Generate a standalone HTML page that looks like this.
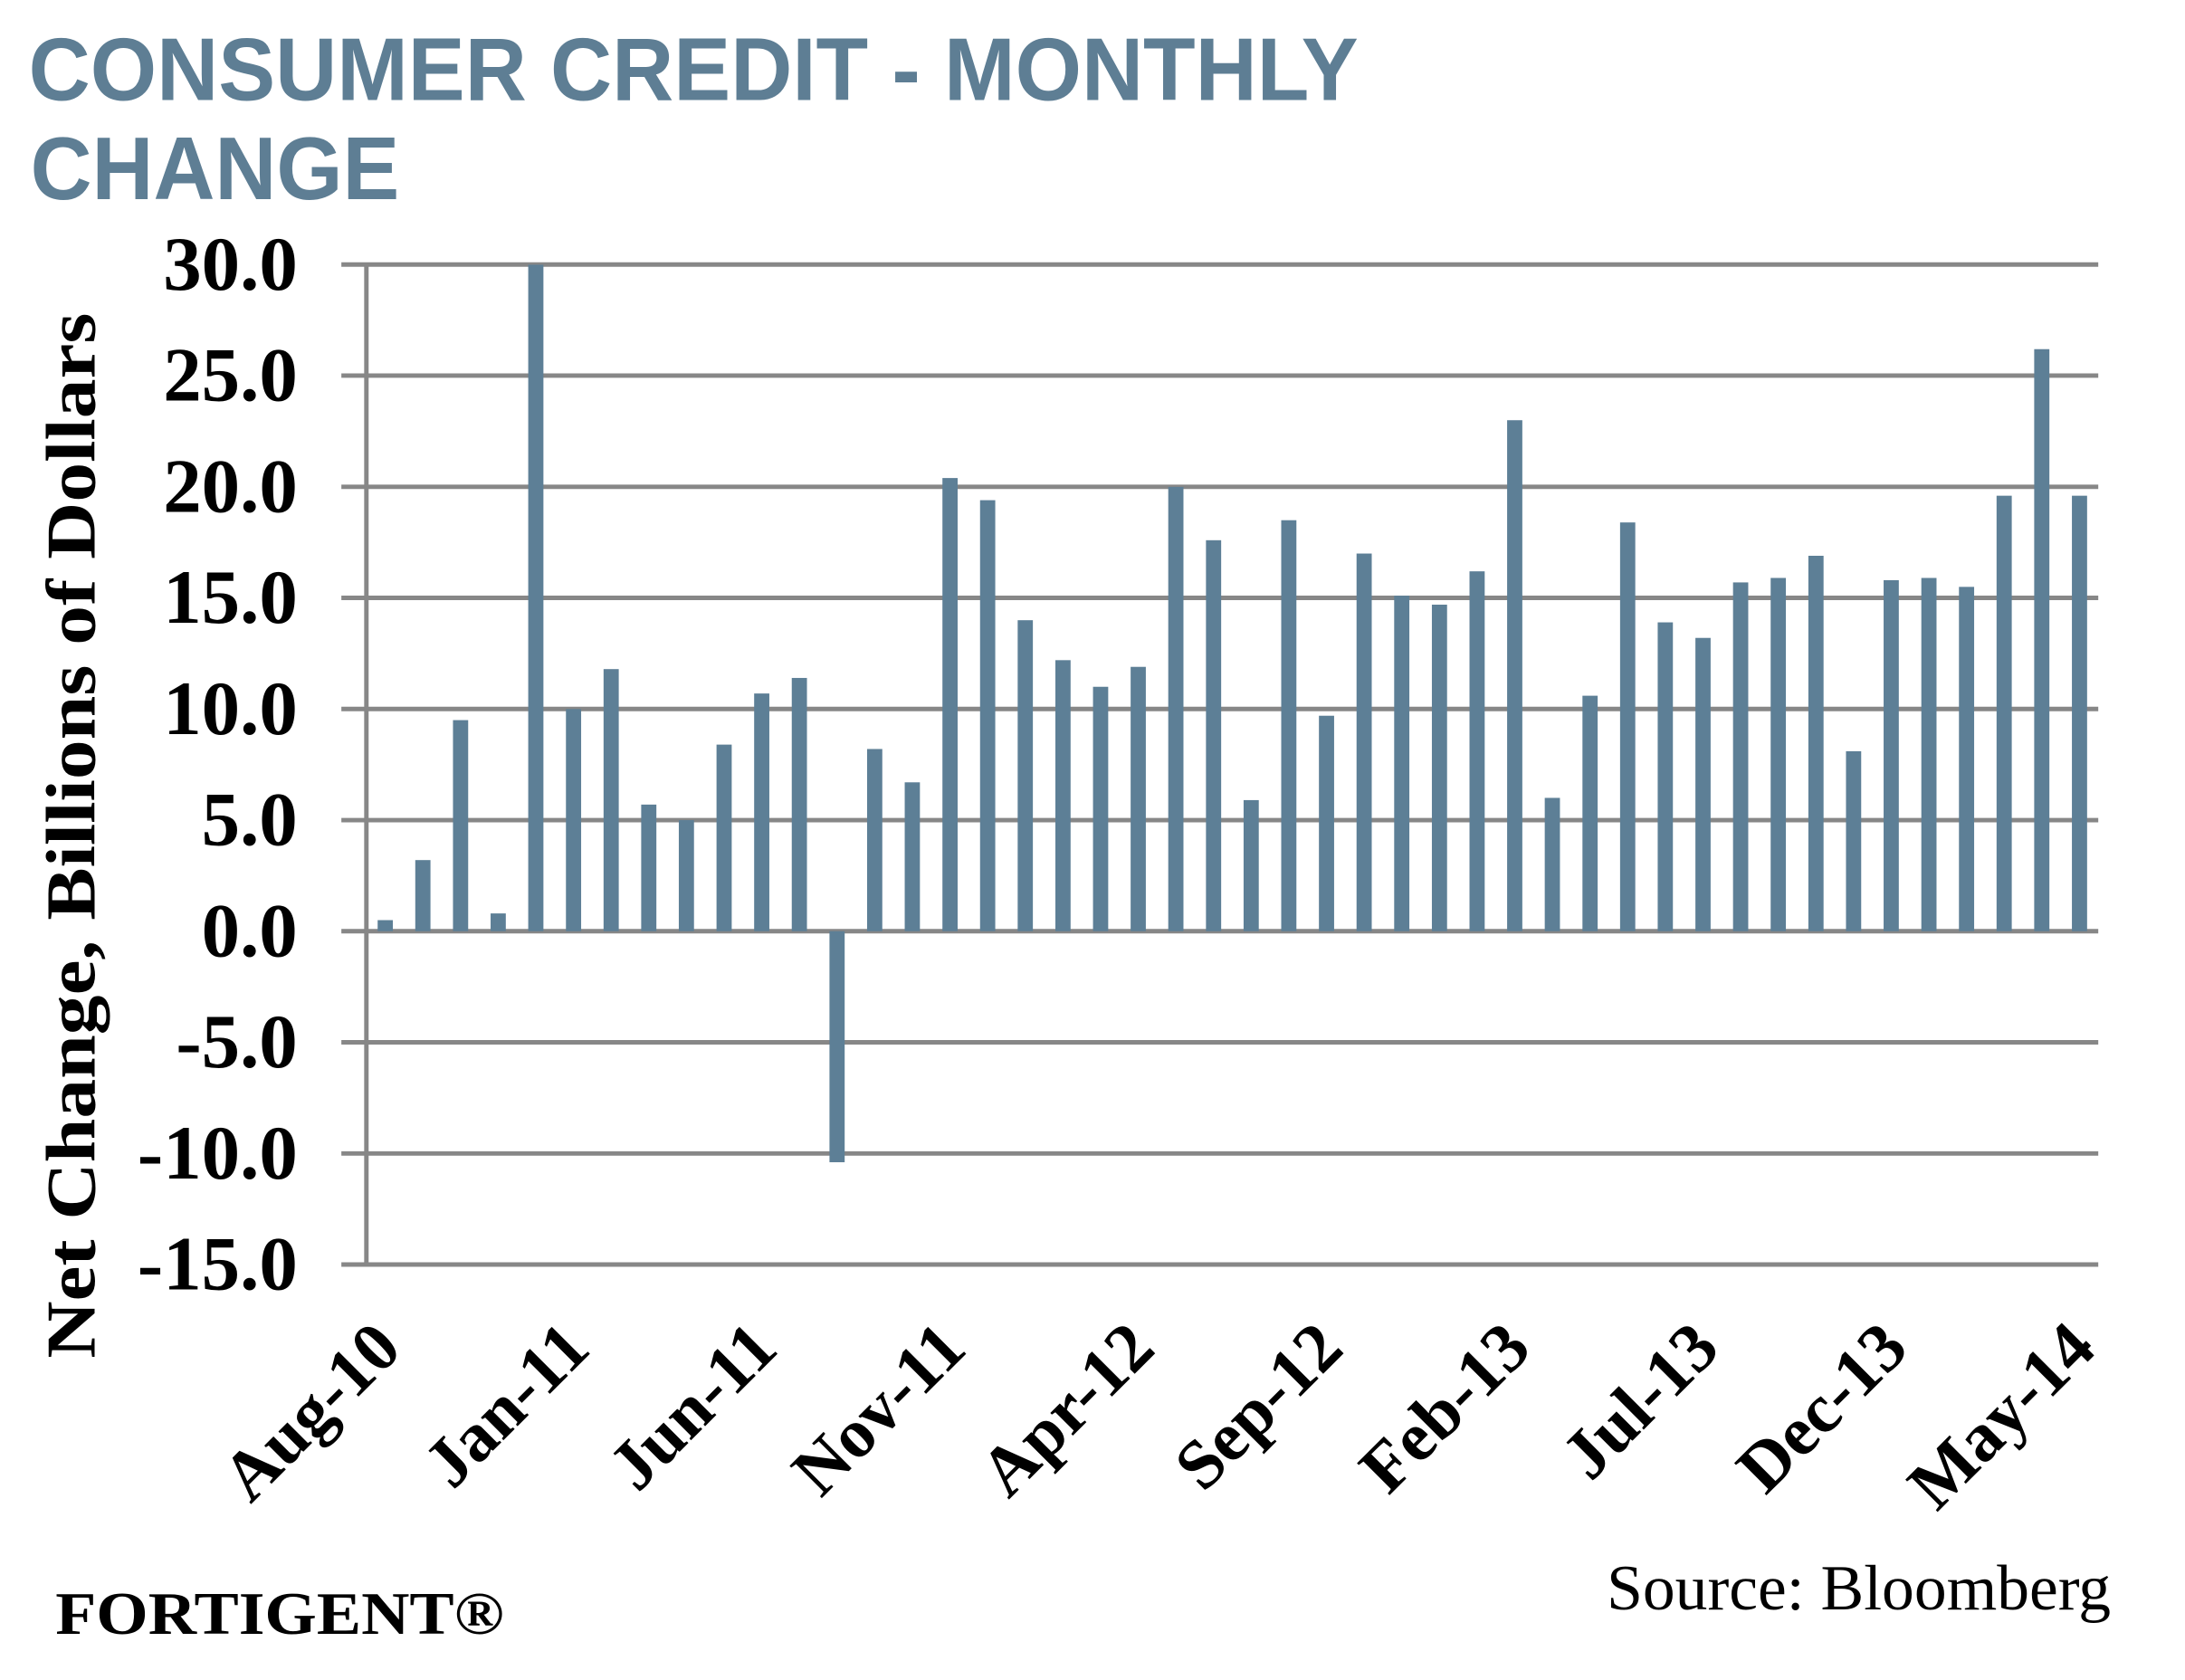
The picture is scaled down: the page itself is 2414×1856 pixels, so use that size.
<!DOCTYPE html>
<html><head><meta charset="utf-8"><style>
html,body{margin:0;padding:0;background:#fff;}
svg{display:block;}
</style></head><body>
<svg width="2414" height="1856" viewBox="0 0 2414 1856" xmlns="http://www.w3.org/2000/svg">
<rect width="2414" height="1856" fill="#fff"/>
<g transform="scale(0.9873)">
<g font-family="'Liberation Sans',Arial,sans-serif" font-weight="bold" fill="#5e7e94" font-size="100">
<text x="32" y="112" textLength="1488" lengthAdjust="spacingAndGlyphs">CONSUMER CREDIT - MONTHLY</text>
<text x="34" y="223" textLength="413" lengthAdjust="spacingAndGlyphs">CHANGE</text>
</g>
<g stroke="#878787" stroke-width="5">
<line x1="382" y1="296" x2="2348" y2="296"/>
<line x1="382" y1="420.3" x2="2348" y2="420.3"/>
<line x1="382" y1="544.7" x2="2348" y2="544.7"/>
<line x1="382" y1="669" x2="2348" y2="669"/>
<line x1="382" y1="793.3" x2="2348" y2="793.3"/>
<line x1="382" y1="917.7" x2="2348" y2="917.7"/>
<line x1="382" y1="1042" x2="2348" y2="1042"/>
<line x1="382" y1="1166.3" x2="2348" y2="1166.3"/>
<line x1="382" y1="1290.7" x2="2348" y2="1290.7"/>
<line x1="382" y1="1415" x2="2348" y2="1415"/>
<line x1="410" y1="296" x2="410" y2="1415"/>
</g>
<g fill="#5d7f96">
<rect x="422.6" y="1029.6" width="17" height="12.4"/>
<rect x="464.7" y="962.4" width="17" height="79.6"/>
<rect x="506.9" y="805.8" width="17" height="236.2"/>
<rect x="549.0" y="1022.1" width="17" height="19.9"/>
<rect x="591.1" y="296.2" width="17" height="745.8"/>
<rect x="633.3" y="793.4" width="17" height="248.6"/>
<rect x="675.4" y="748.7" width="17" height="293.3"/>
<rect x="717.5" y="900.3" width="17" height="141.7"/>
<rect x="759.6" y="917.7" width="17" height="124.3"/>
<rect x="801.8" y="833.2" width="17" height="208.8"/>
<rect x="843.9" y="776.0" width="17" height="266.0"/>
<rect x="886.0" y="758.6" width="17" height="283.4"/>
<rect x="928.2" y="1042" width="17" height="258.5"/>
<rect x="970.3" y="838.1" width="17" height="203.9"/>
<rect x="1012.4" y="875.4" width="17" height="166.6"/>
<rect x="1054.6" y="534.9" width="17" height="507.1"/>
<rect x="1096.7" y="559.7" width="17" height="482.3"/>
<rect x="1138.8" y="694.0" width="17" height="348.0"/>
<rect x="1181.0" y="738.7" width="17" height="303.3"/>
<rect x="1223.1" y="768.5" width="17" height="273.5"/>
<rect x="1265.2" y="746.2" width="17" height="295.8"/>
<rect x="1307.3" y="544.8" width="17" height="497.2"/>
<rect x="1349.5" y="604.5" width="17" height="437.5"/>
<rect x="1391.6" y="895.3" width="17" height="146.7"/>
<rect x="1433.7" y="582.1" width="17" height="459.9"/>
<rect x="1475.9" y="800.9" width="17" height="241.1"/>
<rect x="1518.0" y="619.4" width="17" height="422.6"/>
<rect x="1560.1" y="666.6" width="17" height="375.4"/>
<rect x="1602.3" y="676.6" width="17" height="365.4"/>
<rect x="1644.4" y="639.3" width="17" height="402.7"/>
<rect x="1686.5" y="470.2" width="17" height="571.8"/>
<rect x="1728.6" y="892.8" width="17" height="149.2"/>
<rect x="1770.8" y="778.5" width="17" height="263.5"/>
<rect x="1812.9" y="584.6" width="17" height="457.4"/>
<rect x="1855.0" y="696.4" width="17" height="345.6"/>
<rect x="1897.2" y="713.8" width="17" height="328.2"/>
<rect x="1939.3" y="651.7" width="17" height="390.3"/>
<rect x="1981.4" y="646.7" width="17" height="395.3"/>
<rect x="2023.6" y="621.9" width="17" height="420.1"/>
<rect x="2065.7" y="840.6" width="17" height="201.4"/>
<rect x="2107.8" y="649.2" width="17" height="392.8"/>
<rect x="2150.0" y="646.7" width="17" height="395.3"/>
<rect x="2192.1" y="656.7" width="17" height="385.3"/>
<rect x="2234.2" y="554.7" width="17" height="487.3"/>
<rect x="2276.3" y="390.7" width="17" height="651.3"/>
<rect x="2318.5" y="554.7" width="17" height="487.3"/>
</g>
<g font-family="'Liberation Serif','Times New Roman',serif" font-weight="bold" fill="#000" font-size="86" text-anchor="end">
<text x="333" y="324">30.0</text>
<text x="333" y="448.3">25.0</text>
<text x="333" y="572.7">20.0</text>
<text x="333" y="697">15.0</text>
<text x="333" y="821.3">10.0</text>
<text x="333" y="945.7">5.0</text>
<text x="333" y="1070">0.0</text>
<text x="333" y="1194.3">-5.0</text>
<text x="333" y="1318.7">-10.0</text>
<text x="333" y="1443">-15.0</text>
</g>
<text transform="translate(106,935) rotate(-90)" text-anchor="middle" font-family="'Liberation Serif','Times New Roman',serif" font-weight="bold" font-size="78" textLength="1170" lengthAdjust="spacingAndGlyphs">Net Change, Billions of Dollars</text>
<g font-family="'Liberation Serif','Times New Roman',serif" font-weight="bold" fill="#000" font-size="78" text-anchor="end">
<text transform="translate(452,1512) rotate(-45)">Aug-10</text>
<text transform="translate(663,1512) rotate(-45)">Jan-11</text>
<text transform="translate(873,1512) rotate(-45)">Jun-11</text>
<text transform="translate(1084,1512) rotate(-45)">Nov-11</text>
<text transform="translate(1295,1512) rotate(-45)">Apr-12</text>
<text transform="translate(1506,1512) rotate(-45)">Sep-12</text>
<text transform="translate(1716,1512) rotate(-45)">Feb-13</text>
<text transform="translate(1927,1512) rotate(-45)">Jul-13</text>
<text transform="translate(2138,1512) rotate(-45)">Dec-13</text>
<text transform="translate(2348,1512) rotate(-45)">May-14</text>
</g>
<text x="62" y="1828" font-family="'Liberation Serif','Times New Roman',serif" font-weight="bold" font-size="68" textLength="502" lengthAdjust="spacingAndGlyphs">FORTIGENT®</text>
<text x="1798" y="1801" font-family="'Liberation Serif','Times New Roman',serif" font-size="72" textLength="564" lengthAdjust="spacingAndGlyphs">Source: Bloomberg</text>
</g>
</svg>
</body></html>
